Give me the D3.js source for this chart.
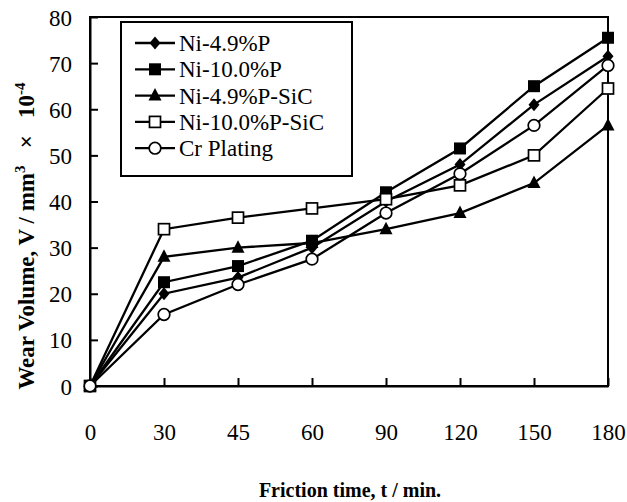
<!DOCTYPE html>
<html><head><meta charset="utf-8">
<script src="https://cdn.jsdelivr.net/npm/d3@7"></script>
<style>body{margin:0;background:#fff}svg{display:block}text{font-family:"Liberation Serif","Times New Roman",serif;fill:#000}</style>
</head><body><svg id="c" width="627" height="502"></svg>
<script>
const categories = ["0","30","45","60","90","120","150","180"];
const yTicks = [0,10,20,30,40,50,60,70,80];
const seriesNames = ["Ni-4.9%P","Ni-10.0%P","Ni-4.9%P-SiC","Ni-10.0%P-SiC","Cr Plating"];
const ni49P      = [0, 20, 23.5, 30, 40, 48, 61, 71.5];
const ni100P     = [0, 22.5, 26, 31.5, 42, 51.5, 65, 75.5];
const ni49PSiC   = [0, 28, 30, 31, 34, 37.5, 44, 56.5];
const ni100PSiC  = [0, 34, 36.5, 38.5, 40.5, 43.5, 50, 64.5];
const crPlating  = [0, 15.5, 22, 27.5, 37.5, 46, 56.5, 69.5];
const markers = ["diamond","square","triangle","squareOpen","circleOpen"];

const seriesValues = [ni49P, ni100P, ni49PSiC, ni100PSiC, crPlating];
const svg = d3.select("#c");
const m = {l:90, r:608, t:17, b:386};
const x = d3.scalePoint().domain(categories).range([m.l, m.r]).padding(0);
const y = d3.scaleLinear().domain([0,80]).range([m.b, m.t]);

svg.append("rect").attr("x",m.l).attr("y",m.t).attr("width",m.r-m.l).attr("height",m.b-m.t)
  .attr("fill","none").attr("stroke","#000").attr("stroke-width",2);

const xAxis = svg.append("g").attr("transform",`translate(0,${m.b})`)
  .call(d3.axisBottom(x).tickSizeInner(-8).tickSizeOuter(0).tickPadding(38));
const yAxis = svg.append("g").attr("transform",`translate(${m.l},0)`)
  .call(d3.axisLeft(y).tickValues(yTicks).tickFormat(d3.format("d")).tickSizeInner(-8).tickSizeOuter(0).tickPadding(18));
[xAxis,yAxis].forEach(g=>{
  g.select(".domain").attr("stroke","#000").attr("stroke-width",2);
  g.selectAll(".tick line").attr("stroke","#000").attr("stroke-width",2);
  g.selectAll(".tick text").attr("font-size",23).attr("font-family","Liberation Serif, serif").attr("fill","#000");
});
yAxis.selectAll(".tick text").attr("dy","0.35em");

function drawMarker(g, type, cx, cy){
  if(type==="diamond"){
    g.append("path").attr("d",`M${cx},${cy-6.5}L${cx+5.5},${cy}L${cx},${cy+6.5}L${cx-5.5},${cy}Z`).attr("fill","#000");
  } else if(type==="square"){
    g.append("rect").attr("x",cx-6).attr("y",cy-6).attr("width",12).attr("height",12).attr("fill","#000");
  } else if(type==="triangle"){
    g.append("path").attr("d",`M${cx},${cy-7.5}L${cx+6.5},${cy+5}L${cx-6.5},${cy+5}Z`).attr("fill","#000");
  } else if(type==="squareOpen"){
    g.append("rect").attr("x",cx-5.5).attr("y",cy-5.5).attr("width",11).attr("height",11).attr("fill","#fff").attr("stroke","#000").attr("stroke-width",1.7);
  } else if(type==="circleOpen"){
    g.append("circle").attr("cx",cx).attr("cy",cy).attr("r",5.8).attr("fill","#fff").attr("stroke","#000").attr("stroke-width",1.7);
  }
}

const line = d3.line().x((d,i)=>x(categories[i])).y(d=>y(d));
seriesValues.forEach(vals=>{
  svg.append("path").datum(vals).attr("d",line).attr("fill","none").attr("stroke","#000").attr("stroke-width",2.3);
});
seriesValues.forEach((vals,si)=>{
  const g = svg.append("g");
  vals.forEach((v,i)=>drawMarker(g, markers[si], x(categories[i]), y(v)));
});

const lg = svg.append("g");
lg.append("rect").attr("x",121).attr("y",22).attr("width",231).attr("height",154)
  .attr("fill","#fff").attr("stroke","#000").attr("stroke-width",2);
seriesNames.forEach((name,i)=>{
  const cy = 43 + i*26.3;
  lg.append("line").attr("x1",135).attr("x2",175).attr("y1",cy).attr("y2",cy).attr("stroke","#000").attr("stroke-width",2.3);
  drawMarker(lg, markers[i], 155, cy);
  lg.append("text").attr("x",179).attr("y",cy).attr("dy","0.35em").attr("font-size",23).text(name);
});

svg.append("text").attr("x",350).attr("y",497).attr("text-anchor","middle")
  .attr("font-size",20).attr("font-weight","bold").text("Friction time, t / min.");
const yt = svg.append("text").attr("transform","translate(34,236) rotate(-90)").attr("text-anchor","middle")
  .attr("font-size",23).attr("font-weight","bold");
yt.append("tspan").text("Wear Volume, V / mm");
yt.append("tspan").attr("dy",-9).attr("font-size",15).text("3");
yt.append("tspan").attr("dy",9).text("\u00a0\u00a0\u00a0\u00d7\u00a0\u00a0 10");
yt.append("tspan").attr("dy",-9).attr("font-size",15).text("-4");
</script></body></html>
